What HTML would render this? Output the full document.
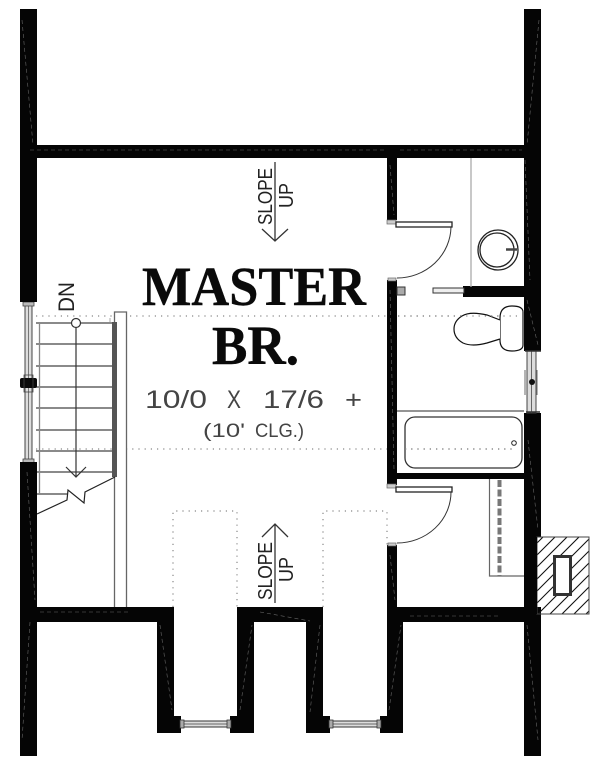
<!DOCTYPE html>
<html><head><meta charset="utf-8"><style>
html,body{margin:0;padding:0;background:#fff}
svg{display:block}
text{font-family:"Liberation Sans",sans-serif;fill:#222}
.s{font-family:"Liberation Serif",serif;font-weight:bold;fill:#0a0a0a;stroke:#0a0a0a;stroke-width:.4}
.l{fill:#444}
.d{stroke:#888;stroke-width:1.2;stroke-dasharray:1.2 5;fill:none}
.w{stroke:#666;stroke-width:.6;stroke-dasharray:4 3;fill:none}
</style></head><body>
<svg width="600" height="765" viewBox="0 0 600 765" xmlns="http://www.w3.org/2000/svg">
<rect width="600" height="765" fill="#fff"/>
<!-- dotted -->
<path class="d" d="M36 316H115M130 316H387M398 316H520M36 449H115M126 449H387M405 449H516"/>
<path class="d" d="M173 607V511H237V607M323 607V511H387V545"/>
<!-- handrail -->
<path d="M114.500 607V312H126.500V607" fill="none" stroke="#666" stroke-width="1.300"/>
<!-- stairs -->
<path d="M36 323H112M36 344H117M36 366H117M36 387H117M36 408H117M36 430H117M36 451H117M36 472H117M36 494H67" stroke="#444" stroke-width="1.300" fill="none"/>
<path d="M39.500 323V494" stroke="#888" stroke-width="1.300"/>
<path d="M110 318V322" stroke="#aaa"/>
<rect x="112" y="322" width="5" height="155" fill="#555"/>
<path d="M76 328V477M66 467L76 477L86 467" stroke="#333" stroke-width="1.200" fill="none"/>
<circle cx="76" cy="323" r="4.500" fill="#fff" stroke="#333" stroke-width="1.200"/>
<path d="M37 514L67 500L68 490L84 503L85 492L115 477" stroke="#222" stroke-width="1.200" fill="none"/>
<!-- left window -->
<rect x="25" y="305" width="7" height="157" fill="#ddd" stroke="#444"/>
<path d="M28.500 305V462" stroke="#777"/>
<rect x="23" y="302" width="11" height="4" fill="#bbb" stroke="#444" stroke-width=".8"/>
<rect x="23" y="459" width="11" height="4" fill="#bbb" stroke="#444" stroke-width=".8"/>
<rect x="20" y="378" width="17" height="10" rx="2" fill="#0a0a0a"/>
<rect x="24" y="375" width="9" height="17" fill="none" stroke="#444" stroke-width=".8"/>
<!-- walls -->
<g fill="#050505">
<rect x="20" y="9" width="17" height="293"/>
<rect x="20" y="145" width="521" height="13"/>
<rect x="524" y="9" width="17" height="342"/>
<rect x="387" y="157" width="10" height="63"/>
<rect x="387" y="280" width="10" height="205"/>
<rect x="463" y="286" width="62" height="11"/>
<rect x="20" y="462" width="17" height="294"/>
<rect x="20" y="607" width="153" height="15"/>
<path d="M157 607H174V716H181V733H157Z"/>
<path d="M237 607H323V716H330V733H306V622H254V733H230V716H237Z"/>
<path d="M387 545H397V607H541V622H403V733H380V716H387Z"/>
<rect x="397" y="473" width="128" height="6"/>
<rect x="524" y="413" width="17" height="343"/>
</g>
<path class="w" d="M22 20L33 145M539 20L527 145M30 150H385M400 150H522M27 472L35 600M40 612H130M160 625L172 710M320 625L310 712M240 710L252 625M260 612L310 621M389 710L401 625M410 616H500M527 625L538 740M30 622L22 740M527 300L538 345M528 440L538 530M390 165L394 215M390 290L394 470M390 555L395 600M525 160L530 280"/>
<!-- right window -->
<rect x="527" y="351" width="9" height="62" fill="#ddd" stroke="#444"/>
<path d="M531.500 351V413" stroke="#666"/>
<path d="M525 370V395M537 370V395" stroke="#777" stroke-width="1.100"/>
<circle cx="532" cy="382" r="3" fill="#111"/>
<path d="M525 351h16M526 412h14" stroke="#333" stroke-width="1.500"/>
<!-- upper door -->
<rect x="387" y="220" width="9" height="4" fill="#ccc" stroke="#666" stroke-width=".7"/>
<rect x="396" y="222" width="56" height="5" fill="#fff" stroke="#222" stroke-width="1.300"/>
<path d="M451 227A54 52 0 0 1 397 278" fill="none" stroke="#333"/>
<rect x="388" y="278" width="8" height="3" fill="#ccc" stroke="#666" stroke-width=".7"/>
<rect x="397" y="287" width="8" height="8" fill="#aaa" stroke="#333"/>
<rect x="433" y="288" width="31" height="5" fill="#eee" stroke="#333"/>
<!-- vanity -->
<path d="M471 158V287" stroke="#aaa" stroke-width="1.300"/>
<circle cx="498" cy="250" r="20" fill="none" stroke="#222" stroke-width="1.300"/>
<circle cx="497" cy="250" r="17" fill="none" stroke="#222" stroke-width="1.300"/>
<path d="M506 249.500H517" stroke="#444" stroke-width="2.500"/>
<!-- toilet -->
<path d="M500 318Q500 306 512 306Q523 306 523 312V345Q523 351 512 351Q500 351 500 340Z" fill="#fff" stroke="#111" stroke-width="1.200"/>
<path d="M500 320L487 315Q470 311 462 316Q454 321 454 329Q454 338 463 343Q472 347 487 343L500 339" fill="#fff" stroke="#111" stroke-width="1.200"/>
<path d="M398 316H520" class="d"/>
<!-- tub -->
<path d="M397 411H524" stroke="#555" stroke-width="1.300"/>
<rect x="405" y="417" width="117" height="51" rx="10" fill="none" stroke="#333" stroke-width="1.300"/>
<circle cx="514" cy="443" r="2.300" fill="#fff" stroke="#222"/>
<path d="M405 449H516" class="d"/>
<!-- lower door -->
<rect x="387" y="484" width="9" height="4" fill="#ccc" stroke="#666" stroke-width=".7"/>
<rect x="396" y="487" width="56" height="5" fill="#fff" stroke="#222" stroke-width="1.300"/>
<path d="M451 492A54 51 0 0 1 397 543" fill="none" stroke="#333"/>
<rect x="388" y="543" width="8" height="3" fill="#ccc" stroke="#666" stroke-width=".7"/>
<!-- closet -->
<path d="M489.500 479V576H524" fill="none" stroke="#666" stroke-width="1.200"/>
<path d="M499.500 480V576" stroke="#777" stroke-width="4" stroke-dasharray="7 2.500"/>
<!-- chimney -->
<rect x="537" y="537" width="5" height="70" fill="#fff"/>
<svg x="537" y="537" width="52" height="77" viewBox="0 0 52 77">
<path d="M-10 16L16 -10M-10 28L28 -10M-10 40L40 -10M-10 52L52 -10M-10 64L64 -10M-10 76L76 -10M-10 88L88 -10M-10 100L100 -10M-10 112L112 -10M-10 124L124 -10M-10 136L136 -10" stroke="#111" stroke-width="1.100"/>
</svg>
<rect x="537" y="537" width="52" height="77" fill="none" stroke="#444" stroke-width="1"/>
<rect x="524" y="537" width="13" height="77" fill="#050505"/>
<rect x="553" y="555" width="19" height="41" fill="#333"/>
<rect x="556" y="558" width="13" height="35" fill="#fff"/>
<!-- dormer windows -->
<g fill="#ddd" stroke="#333">
<rect x="181" y="721" width="49" height="6"/>
<rect x="330" y="721" width="50" height="6"/>
</g>
<path d="M181 724H230M330 724H380" stroke="#666"/>
<g fill="#aaa" stroke="#333" stroke-width=".8">
<rect x="180" y="720" width="4" height="8"/><rect x="227" y="720" width="4" height="8"/>
<rect x="329" y="720" width="4" height="8"/><rect x="377" y="720" width="4" height="8"/>
</g>
<!-- arrows -->
<path d="M275 162V241M262 229L275 241L288 229M275 603V524M262 537L275 524L288 537" fill="none" stroke="#333" stroke-width="1.300"/>
<!-- labels -->
<text class="s" x="142" y="305" font-size="55" textLength="224" lengthAdjust="spacingAndGlyphs">MASTER</text>
<text class="s" x="212" y="364" font-size="55" textLength="87" lengthAdjust="spacingAndGlyphs">BR.</text>
<text class="l" x="145" y="408" font-size="25" textLength="62" lengthAdjust="spacingAndGlyphs">10/0</text>
<text class="l" x="227" y="408" font-size="25" textLength="14" lengthAdjust="spacingAndGlyphs">X</text>
<text class="l" x="263" y="408" font-size="25" textLength="61" lengthAdjust="spacingAndGlyphs">17/6</text>
<text class="l" x="345" y="408" font-size="25" textLength="17" lengthAdjust="spacingAndGlyphs">+</text>
<text class="l" x="203" y="437" font-size="19" textLength="42" lengthAdjust="spacingAndGlyphs">(10'</text>
<text class="l" x="255" y="437" font-size="19" textLength="49" lengthAdjust="spacingAndGlyphs">CLG.)</text>
<text transform="translate(272 225) rotate(-90)" font-size="20" textLength="57" lengthAdjust="spacingAndGlyphs">SLOPE</text>
<text transform="translate(293 208) rotate(-90)" font-size="20" textLength="25" lengthAdjust="spacingAndGlyphs">UP</text>
<text transform="translate(272 600) rotate(-90)" font-size="20" textLength="58" lengthAdjust="spacingAndGlyphs">SLOPE</text>
<text transform="translate(293 582) rotate(-90)" font-size="20" textLength="25" lengthAdjust="spacingAndGlyphs">UP</text>
<text transform="translate(74 312) rotate(-90)" font-size="22" textLength="30" lengthAdjust="spacingAndGlyphs">DN</text>
</svg>
</body></html>
